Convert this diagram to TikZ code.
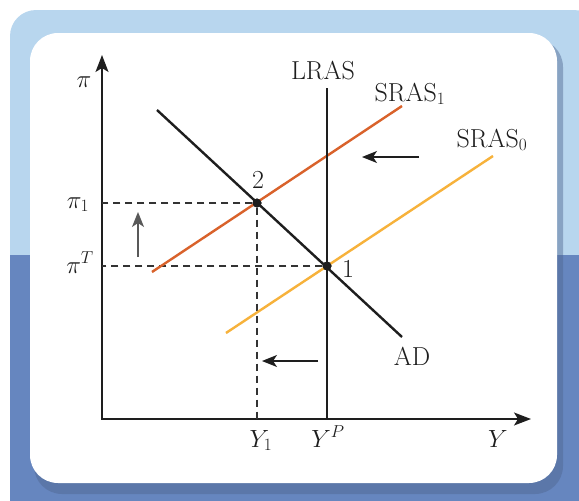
\documentclass[tikz,border=0pt]{standalone}
\usetikzlibrary{arrows.meta,positioning,calc}

\definecolor{panelblue}{HTML}{B8D6EE}
\definecolor{deepblue}{HTML}{6686BF}
\definecolor{shadeblue}{HTML}{4F6690}
\definecolor{srasred}{HTML}{D9622B}
\definecolor{srasyellow}{HTML}{F7B23B}
\definecolor{inkgray}{HTML}{1E1E1E}

\begin{document}
\begin{tikzpicture}[
  x=1pt, y=-1pt,
  font=\fontsize{26}{30}\selectfont,
  every node/.style={text=inkgray},
  axis/.style={line width=1.4pt, inkgray, {Stealth[length=17pt,width=13pt,inset=4pt]}-{Stealth[length=17pt,width=13pt,inset=4pt]}},
  curve/.style={line width=2.4pt},
  guide/.style={line width=1.3pt, gray!40!black, dash pattern=on 7pt off 5pt},
  dot/.style={circle, fill=inkgray, minimum size=9pt, inner sep=0pt},
  move/.style={line width=1.4pt, inkgray, -{Stealth[length=15pt,width=12pt,inset=4pt]}},
  lbl/.style={anchor=base, inner sep=0pt}
  ]

  % frame and background
  \useasboundingbox (0,0) rectangle (579,501);
  \fill[panelblue, rounded corners=26pt] (10,10) rectangle (600,540);
  \fill[deepblue] (10,255) rectangle (579,501);
  \fill[shadeblue, opacity=0.45, rounded corners=28pt] (34,39) rectangle (563,494);
  \fill[white, rounded corners=28pt] (30,33) rectangle (557,483);

  % axes
  \coordinate (O) at (102,419);
  \coordinate (ytop) at (102,55);
  \coordinate (xend) at (531,419);
  \draw[axis] (ytop) -- (O) -- (xend);

  % curve end points
  \coordinate (ad0) at (157,110);
  \coordinate (ad1) at (402,337);
  \coordinate (sb0) at (152,272); % SRAS_1
  \coordinate (sb1) at (402,106);
  \coordinate (sa0) at (226,333); % SRAS_0
  \coordinate (sa1) at (493,156);
  \coordinate (lr0) at (327,88);
  \coordinate (lr1) at (327,419);

  % equilibrium points
  \node[dot] (p1) at (327,266) {};
  \node[dot] (p2) at (257,203) {};

  % guide lines
  \draw[guide] (p2) -- (p2 -| O);
  \draw[guide] (p2) -- (p2 |- O);
  \draw[guide] (p1) -- (p1 -| O);

  % curves
  \draw[curve, srasyellow] (sa0) -- (sa1);
  \draw[curve, srasred] (sb0) -- (sb1);
  \draw[curve, inkgray] (ad0) -- (ad1);
  \draw[curve, inkgray, line width=2.8pt] (lr0) -- (lr1);
  \node[dot] at (p1) {};
  \node[dot] at (p2) {};

  % shift arrows
  \coordinate (up0) at (138,257);
  \coordinate (up1) at (138,212);
  \coordinate (lt0) at (419,157);
  \coordinate (lt1) at (362,157);
  \coordinate (lb0) at (318,361);
  \coordinate (lb1) at (262,361);
  \draw[move, gray!70!black] (up0) -- (up1);
  \draw[move] (lt0) -- (lt1);
  \draw[move] (lb0) -- (lb1);

  % labels
  \node[lbl] (lpi) at (84,87) {$\pi$};
  \node[lbl] (lpi1) at (78,208) {$\pi_1$};
  \node[lbl] (lpiT) at (80,273) {$\pi^T$};
  \node[lbl] (llras) at (323,79) {LRAS};
  \node[lbl] (lsras1) at (410,101) {SRAS$_1$};
  \node[lbl] (lsras0) at (492,147) {SRAS$_0$};
  \node[lbl] (ltwo) at (258,188) {2};
  \node[lbl] (lone) at (348,277) {1};
  \node[lbl] (lad) at (412,365) {AD};
  \node[lbl] (ly1) at (261,447) {$Y_1$};
  \node[lbl] (lyp) at (328,447) {$Y^P$};
  \node[lbl] (ly) at (498,447) {$Y$};

\end{tikzpicture}
\end{document}
